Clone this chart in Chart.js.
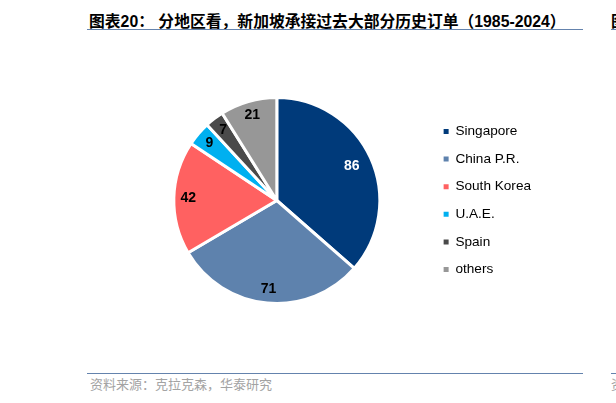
<!DOCTYPE html>
<html>
<head>
<meta charset="utf-8">
<script src="https://cdn.jsdelivr.net/npm/chart.js@4/dist/chart.umd.min.js"></script>
<style>
    html, body { margin: 0; padding: 0; background: #fff; }
    body { width: 616px; height: 403px; position: relative; overflow: hidden; }
    .title {
        position: absolute; left: 89px; top: 9px;
        font: bold 15.8px "Liberation Sans", "Noto Sans CJK SC", sans-serif;
        color: #000; white-space: nowrap;
    }
    .rule { position: absolute; height: 0; border-top: 1.5px solid #6483ad; }
    .source {
        position: absolute; left: 90px; top: 374px;
        font: 13px "Noto Sans CJK SC", sans-serif;
        color: #a3a3a3; white-space: nowrap;
    }
    .cut { position: absolute; left: 611px; white-space: nowrap; }
    #wrap { position: absolute; left: 0; top: 0; width: 616px; height: 403px; }
</style>
</head>
<body>
<div class="title">图表20： 分地区看，新加坡承接过去大部分历史订单（1985-2024）</div>
<div class="rule" style="left:87px; width:496px; top:29px;"></div>
<div class="rule" style="left:611px; width:10px; top:29px;"></div>
<div class="cut title" style="left:611px;">图</div>

<div class="rule" style="left:87px; width:496px; top:373px;"></div>
<div class="rule" style="left:611px; width:10px; top:373px;"></div>
<div class="source">资料来源：克拉克森，华泰研究</div>
<div class="cut source" style="left:611px;">资</div>

<div id="wrap"><canvas id="pieChart"></canvas></div>

<script>
const regions = ["Singapore", "China P.R.", "South Korea", "U.A.E.", "Spain", "others"];
const orders = [86, 71, 42, 9, 7, 21];
const colors = ["#003a7a", "#5e82ad", "#ff6161", "#00b0f0", "#4a4a4a", "#979797"];
const labelColors = ["#ffffff", "#000000", "#000000", "#000000", "#000000", "#000000"];

// values written inside each slice
const sliceLabels = {
    id: "sliceLabels",
    afterDatasetsDraw(chart) {
        const ctx = chart.ctx;
        const meta = chart.getDatasetMeta(0);
        ctx.save();
        ctx.font = "bold 14px 'Liberation Sans', Arial, sans-serif";
        ctx.textAlign = "center";
        ctx.textBaseline = "middle";
        meta.data.forEach((arc, i) => {
            const p = arc.getProps(["x", "y", "startAngle", "endAngle", "outerRadius"], true);
            const mid = (p.startAngle + p.endAngle) / 2;
            const r = p.outerRadius * (i === 0 ? 0.8 : 0.86);
            ctx.fillStyle = labelColors[i];
            ctx.fillText(String(orders[i]), p.x + Math.cos(mid) * r, p.y + Math.sin(mid) * r);
        });
        ctx.restore();
    }
};

const ctx = document.getElementById("pieChart").getContext("2d");

new Chart(ctx, {
    type: "pie",
    data: {
        labels: regions,
        datasets: [{
            data: orders,
            backgroundColor: colors,
            borderColor: "#ffffff",
            borderWidth: 3,
        }],
    },
    options: {
        responsive: true,
        maintainAspectRatio: false,
        animation: false,
        layout: { padding: { top: 96, bottom: 98, left: 124, right: 75 } },
        plugins: {
            tooltip: { enabled: false },
            legend: {
                position: "right",
                labels: {
                    boxWidth: 5,
                    boxHeight: 5,
                    padding: 14,
                    color: "#000",
                    font: { size: 13.6, family: "'Liberation Sans', Arial, sans-serif" },
                    generateLabels(chart) {
                        const items = Chart.overrides.pie.plugins.legend.labels.generateLabels(chart);
                        items.forEach(it => { it.lineWidth = 0; });
                        return items;
                    },
                },
            },
        },
    },
    plugins: [sliceLabels],
});
</script>
</body>
</html>
